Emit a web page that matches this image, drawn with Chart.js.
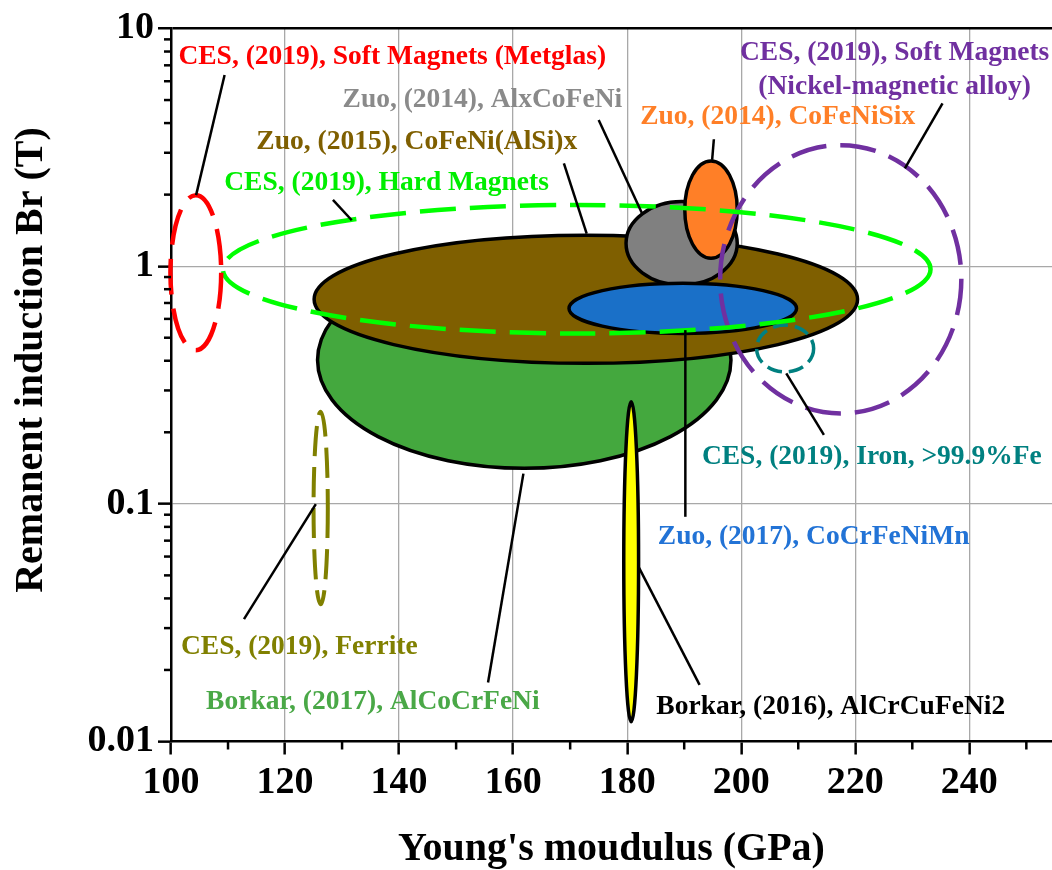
<!DOCTYPE html>
<html>
<head>
<meta charset="utf-8">
<script src="https://cdn.jsdelivr.net/npm/chart.js@4"></script>
<style>
  html, body { margin: 0; padding: 0; background: #fff; }
  canvas { display: block; }
</style>
</head>
<body>
<canvas id="chart" width="1052" height="870"></canvas>
<script>
// each material region is an ellipse spanning [min, max] on both axes
const regionNames = [
  "Borkar, (2017), AlCoCrFeNi",
  "Zuo, (2015), CoFeNi(AlSi)x",
  "Borkar, (2016), AlCrCuFeNi2",
  "Zuo, (2014), AlxCoFeNi",
  "Zuo, (2017), CoCrFeNiMn",
  "Zuo, (2014), CoFeNiSix",
  "CES, (2019), Ferrite",
  "CES, (2019), Iron, >99.9%Fe",
  "CES, (2019), Soft Magnets\n(Nickel-magnetic alloy)",
  "CES, (2019), Hard Magnets",
  "CES, (2019), Soft Magnets (Metglas)"
];
const modulusMin = [125.7, 125.1, 179.4, 179.8, 169.8, 190.1, 125.0, 202.7, 196.3, 109.1, 99.9];
const modulusMax = [198.2, 220.4, 182.0, 199.3, 209.7, 199.3, 127.5, 212.7, 238.6, 233.2, 108.8];
const inductionMin = [0.141, 0.390, 0.0121, 0.833, 0.521, 1.08, 0.0378, 0.359, 0.240, 0.521, 0.443];
const inductionMax = [1.15, 1.35, 0.269, 1.87, 0.847, 2.77, 0.244, 0.565, 3.23, 1.81, 1.99];

const xTickValues = [100, 120, 140, 160, 180, 200, 220, 240];
const xMinorValues = [110, 130, 150, 170, 190, 210, 230, 250];
const yTickValues = [0.01, 0.1, 1, 10];
const yTickLabels = ["0.01", "0.1", "1", "10"];
const yMinorValues = [0.02, 0.03, 0.04, 0.05, 0.06, 0.07, 0.08, 0.09,
                      0.2, 0.3, 0.4, 0.5, 0.6, 0.7, 0.8, 0.9,
                      2, 3, 4, 5, 6, 7, 8, 9];

const SERIF = "'Liberation Serif', 'Times New Roman', serif";

// look of each region, same order as regionNames
const regionStyle = [
  { fill: "#44a83e" },
  { fill: "#7f5f00" },
  { fill: "#ffff00" },
  { fill: "#808080" },
  { fill: "#1a70c8" },
  { fill: "#ff7f27" },
  { stroke: "#808000", width: 4, dash: [30, 11] },
  { stroke: "#008080", width: 3.5, dash: [15, 7] },
  { stroke: "#7030a0", width: 4.5, dash: [36, 14] },
  { stroke: "#00ff00", width: 4.5, dash: [36, 14] },
  { stroke: "#ff0000", width: 4.5, dash: [36, 14] }
];

// label centre and leader line for each region (data units)
const callouts = [
  { region: 0, color: "#4aa847", at: [135.4, 0.0147], line: [[161.8, 0.134], [155.6, 0.0177]] },
  { region: 1, color: "#7f5f00", at: [143.1, 3.34], line: [[168.9, 2.71], [172.9, 1.37]] },
  { region: 2, color: "#000000", at: [215.7, 0.0140], line: [[182.0, 0.0543], [192.7, 0.0173]] },
  { region: 3, color: "#8a8a8a", at: [154.6, 5.0], line: [[175.0, 4.12], [182.6, 1.67]] },
  { region: 4, color: "#2273d6", at: [212.7, 0.0726], line: [[190.2, 0.538], [190.2, 0.0882]] },
  { region: 5, color: "#ff7f27", at: [206.4, 4.25], line: [[195.2, 3.42], [194.9, 2.80]] },
  { region: 6, color: "#808000", at: [122.5, 0.025], line: [[125.4, 0.0997], [112.8, 0.0327]] },
  { region: 7, color: "#008080", at: [222.9, 0.158], line: [[207.9, 0.354], [214.5, 0.195]] },
  { region: 8, color: "#7030a0", at: [226.9, 6.69], line: [[235.3, 4.84], [228.7, 2.58]] },
  { region: 9, color: "#00ee00", at: [137.8, 2.23], line: [[128.4, 1.90], [131.7, 1.56]] },
  { region: 10, color: "#ff0000", at: [138.8, 7.61], line: [[109.4, 6.37], [104.4, 1.99]] }
];

const regionPlugin = {
  id: "regions",
  beforeDatasetsDraw(chart) {
    const { ctx, scales: { x, y } } = chart;
    ctx.save();
    regionNames.forEach((name, i) => {
      const x1 = x.getPixelForValue(modulusMin[i]);
      const x2 = x.getPixelForValue(modulusMax[i]);
      const y1 = y.getPixelForValue(inductionMax[i]);
      const y2 = y.getPixelForValue(inductionMin[i]);
      const st = regionStyle[i];
      ctx.beginPath();
      ctx.ellipse((x1 + x2) / 2, (y1 + y2) / 2, (x2 - x1) / 2, (y2 - y1) / 2, 0, 0, Math.PI * 2);
      if (st.fill) {
        ctx.setLineDash([]);
        ctx.fillStyle = st.fill;
        ctx.fill();
        ctx.lineWidth = 3.5;
        ctx.strokeStyle = "#000";
        ctx.stroke();
      } else {
        ctx.setLineDash(st.dash);
        ctx.lineWidth = st.width;
        ctx.strokeStyle = st.stroke;
        ctx.stroke();
      }
    });
    ctx.restore();
  },
  afterDraw(chart) {
    const { ctx, chartArea, scales: { x, y } } = chart;
    ctx.save();
    ctx.setLineDash([]);

    // leader lines + names
    ctx.strokeStyle = "#000";
    ctx.lineWidth = 2.5;
    callouts.forEach(c => {
      ctx.beginPath();
      ctx.moveTo(x.getPixelForValue(c.line[0][0]), y.getPixelForValue(c.line[0][1]));
      ctx.lineTo(x.getPixelForValue(c.line[1][0]), y.getPixelForValue(c.line[1][1]));
      ctx.stroke();
    });
    ctx.font = "bold 27.5px " + SERIF;
    ctx.textAlign = "center";
    ctx.textBaseline = "middle";
    callouts.forEach(c => {
      const lines = regionNames[c.region].split("\n");
      const cx = x.getPixelForValue(c.at[0]);
      const cy = y.getPixelForValue(c.at[1]);
      ctx.fillStyle = c.color;
      lines.forEach((t, k) => {
        ctx.fillText(t, cx, cy + (k - (lines.length - 1) / 2) * 33.5);
      });
    });

    // minor ticks
    ctx.strokeStyle = "#000";
    ctx.lineWidth = 2.5;
    xMinorValues.forEach(v => {
      const px = x.getPixelForValue(v);
      ctx.beginPath();
      ctx.moveTo(px, chartArea.bottom);
      ctx.lineTo(px, chartArea.bottom + 8);
      ctx.stroke();
    });
    yMinorValues.forEach(v => {
      const py = y.getPixelForValue(v);
      ctx.beginPath();
      ctx.moveTo(chartArea.left - 7, py);
      ctx.lineTo(chartArea.left, py);
      ctx.stroke();
    });

    // y axis title
    ctx.translate(32, 360);
    ctx.rotate(-Math.PI / 2);
    ctx.font = "bold 40px " + SERIF;
    ctx.fillStyle = "#000";
    ctx.fillText("Remanent induction Br (T)", 0, 0);
    ctx.restore();
  }
};

const ctx = document.getElementById("chart").getContext("2d");
new Chart(ctx, {
  type: "scatter",
  data: {
    datasets: regionNames.map((name, i) => ({
      label: name,
      data: [{ x: modulusMin[i], y: inductionMin[i] }, { x: modulusMax[i], y: inductionMax[i] }],
      pointRadius: 0,
      showLine: false
    }))
  },
  options: {
    responsive: false,
    animation: false,
    layout: { padding: { top: 28.5, right: 0, bottom: 0, left: 0 } },
    plugins: { legend: { display: false }, tooltip: { enabled: false } },
    scales: {
      x: {
        type: "linear",
        min: 100,
        max: 254.5,
        afterBuildTicks: s => { s.ticks = xTickValues.map(v => ({ value: v })); },
        afterFit: s => { s.height = 128.5; },
        ticks: {
          callback: v => String(v),
          color: "#000",
          padding: 6,
          maxRotation: 0,
          font: { family: SERIF, size: 38, weight: "bold", lineHeight: 1.2 }
        },
        grid: {
          color: c => (c.tick && c.tick.value === 100 ? "rgba(0,0,0,0)" : "#a8a8a8"),
          lineWidth: 1.3,
          tickColor: "#000",
          tickWidth: 2.5,
          tickLength: 13
        },
        border: { color: "#000", width: 2.5 },
        title: {
          display: true,
          text: "Young's moudulus (GPa)",
          color: "#000",
          padding: { top: 0, bottom: 0 },
          font: { family: SERIF, size: 40, weight: "bold", lineHeight: 1 }
        }
      },
      y: {
        type: "logarithmic",
        min: 0.01,
        max: 10,
        afterBuildTicks: s => { s.ticks = yTickValues.map(v => ({ value: v })); },
        afterFit: s => { s.width = 171; },
        ticks: {
          callback: (v, i) => yTickLabels[i],
          color: "#000",
          padding: 4,
          font: { family: SERIF, size: 38, weight: "bold", lineHeight: 1.2 }
        },
        grid: {
          color: c => {
            if (!c.tick) return "#a8a8a8";
            if (c.tick.value === 10) return "#000";
            if (c.tick.value === 0.01) return "rgba(0,0,0,0)";
            return "#a8a8a8";
          },
          lineWidth: c => (c.tick && c.tick.value === 10 ? 2.5 : 1.3),
          tickColor: "#000",
          tickWidth: 2.5,
          tickLength: 13
        },
        border: { color: "#000", width: 2.5 }
      }
    }
  },
  plugins: [regionPlugin]
});
</script>
</body>
</html>
